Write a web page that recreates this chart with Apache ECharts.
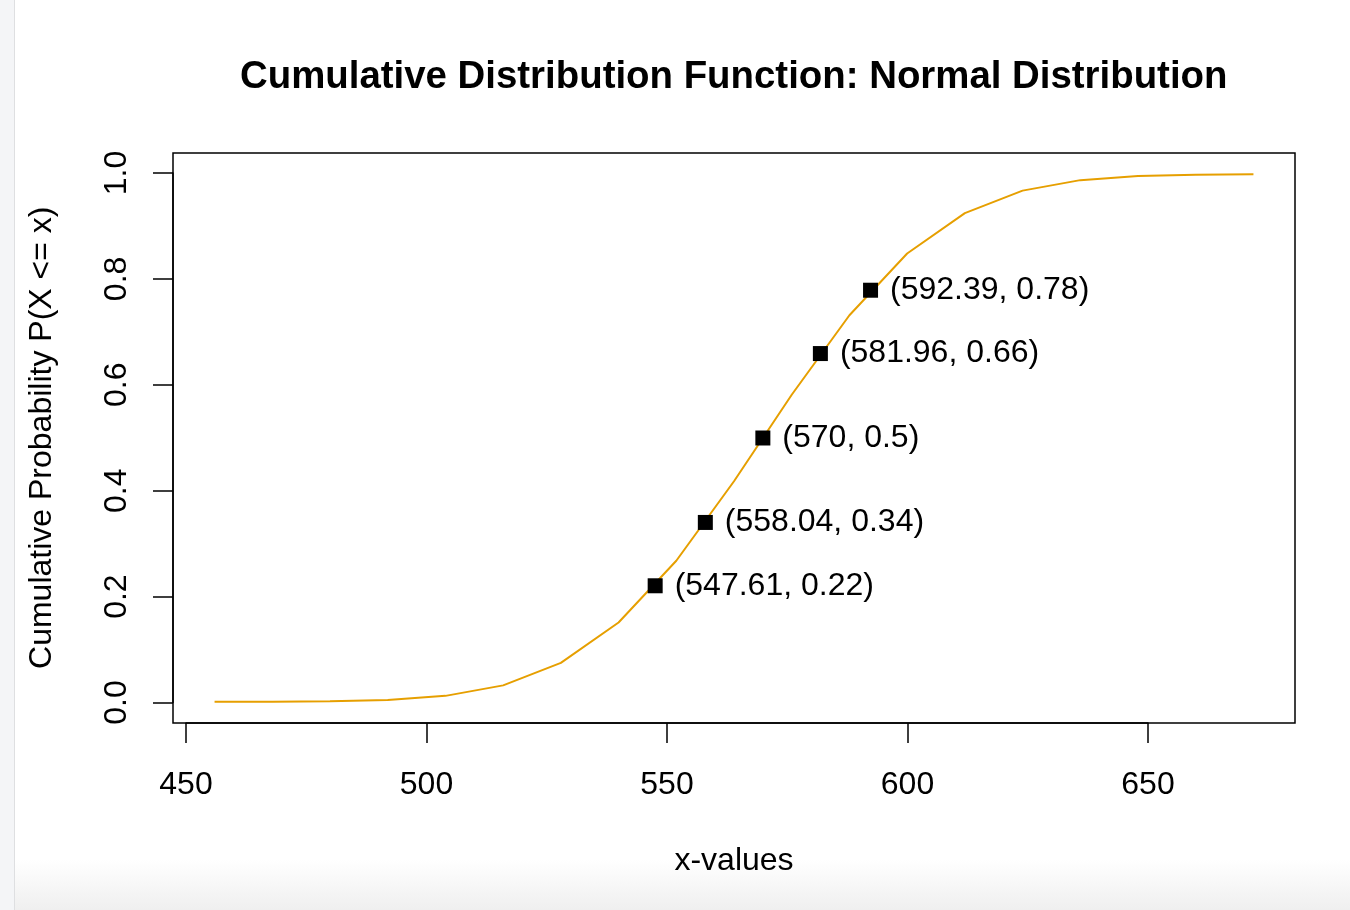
<!DOCTYPE html>
<html>
<head>
<meta charset="utf-8">
<script src="https://cdn.jsdelivr.net/npm/echarts@6/dist/echarts.min.js"></script>
<style>
  html, body { margin: 0; padding: 0; background: #fff; }
  #wrap { position: relative; width: 1350px; height: 910px; overflow: hidden; }
  #leftStrip { position: absolute; left: 0; top: 0; width: 14px; height: 910px; background: #f4f5f7; border-right: 1.5px solid #dedfe1; }
  #bottomShade { position: absolute; left: 15px; bottom: 0; width: 1335px; height: 50px; background: linear-gradient(to bottom, rgba(240,240,240,0), #efefef); }
  #chart { position: absolute; left: 0; top: 0; width: 1350px; height: 910px; }
</style>
</head>
<body>
<div id="wrap">
  <div id="leftStrip"></div>
  <div id="bottomShade"></div>
  <div id="chart"></div>
</div>
<script>
// Curve (x-values and cumulative probabilities)
const curveX = [456, 468, 480, 492, 504, 516, 528, 540, 552, 564, 576, 588, 600, 612, 624, 636, 648, 660, 672];
const curveY = [0.00004, 0.0002, 0.001, 0.0036, 0.0114, 0.0313, 0.0738, 0.1505, 0.2674, 0.418, 0.582, 0.7326, 0.8495, 0.9262, 0.9687, 0.9886, 0.9964, 0.999, 0.9998];
// Highlighted points
const pointX = [547.61, 558.04, 570, 581.96, 592.39];
const pointY = [0.22, 0.34, 0.5, 0.66, 0.78];
// Tick labels
const xTicks = [450, 500, 550, 600, 650];
const yTicks = ['0.0', '0.2', '0.4', '0.6', '0.8', '1.0'];

const titleText = 'Cumulative Distribution Function: Normal Distribution';
const xName = 'x-values';
const yName = 'Cumulative Probability P(X <= x)';

const FONT = 'Liberation Sans, Arial, Helvetica, sans-serif';
const chart = echarts.init(document.getElementById('chart'), null, { renderer: 'canvas' });

const option = {
  animation: false,
  backgroundColor: 'transparent',
  textStyle: { fontFamily: FONT, color: '#000' },
  title: {
    text: titleText,
    left: 235, top: 53,
    textStyle: { fontFamily: FONT, fontWeight: 'bold', fontSize: 38.4, color: '#000' }
  },
  grid: [
    { left: 173, top: 153, width: 1122, height: 570, show: true, borderColor: '#000', borderWidth: 1.5, backgroundColor: 'transparent' },
    { left: 186, top: 153, width: 962, height: 570 },
    { left: 173, top: 173, width: 1122, height: 529.5 }
  ],
  xAxis: [
    { gridIndex: 0, type: 'value', min: 447.36, max: 680.64, show: true,
      axisLine: { show: false }, axisTick: { show: false }, axisLabel: { show: false }, splitLine: { show: false },
      name: xName, nameLocation: 'middle', nameGap: 122,
      nameTextStyle: { fontSize: 32, color: '#000', fontFamily: FONT }
    },
    { gridIndex: 1, type: 'value', min: xTicks[0], max: xTicks[xTicks.length - 1], interval: 50,
      axisLine: { show: true, lineStyle: { color: '#000', width: 1.5 } },
      axisTick: { show: true, length: 20, lineStyle: { color: '#000', width: 1.5 } },
      axisLabel: { fontSize: 32, color: '#000', margin: 46, fontFamily: FONT },
      splitLine: { show: false }
    },
    { gridIndex: 2, type: 'value', show: false }
  ],
  yAxis: [
    { gridIndex: 0, type: 'value', min: -0.04, max: 1.04, show: false },
    { gridIndex: 1, type: 'value', show: false },
    { gridIndex: 2, type: 'value', min: 0, max: 1, interval: 0.2,
      axisLine: { show: true, lineStyle: { color: '#000', width: 1.5 } },
      axisTick: { show: true, length: 20, lineStyle: { color: '#000', width: 1.5 } },
      axisLabel: { fontSize: 32, color: '#000', margin: 40, rotate: 90, fontFamily: FONT,
        formatter: (v) => yTicks[Math.round(v / 0.2)] },
      splitLine: { show: false },
      name: yName, nameLocation: 'middle', nameGap: 115, nameRotate: 90,
      nameTextStyle: { fontSize: 32, color: '#000', fontFamily: FONT }
    }
  ],
  series: [
    {
      type: 'line', xAxisIndex: 0, yAxisIndex: 0,
      data: curveX.map((x, i) => [x, curveY[i]]),
      showSymbol: false, symbol: 'none',
      lineStyle: { color: '#E69F00', width: 2 },
      z: 2
    },
    {
      type: 'scatter', xAxisIndex: 0, yAxisIndex: 0,
      data: pointX.map((x, i) => [x, pointY[i]]),
      symbol: 'rect', symbolSize: 15,
      itemStyle: { color: '#000', opacity: 1 },
      label: {
        show: true, position: 'right', distance: 12,
        fontSize: 32, color: '#000', fontFamily: FONT,
        formatter: (p) => '(' + String(p.value[0]) + ', ' + String(p.value[1]) + ')'
      },
      z: 3
    }
  ]
};
chart.setOption(option);
</script>
</body>
</html>
